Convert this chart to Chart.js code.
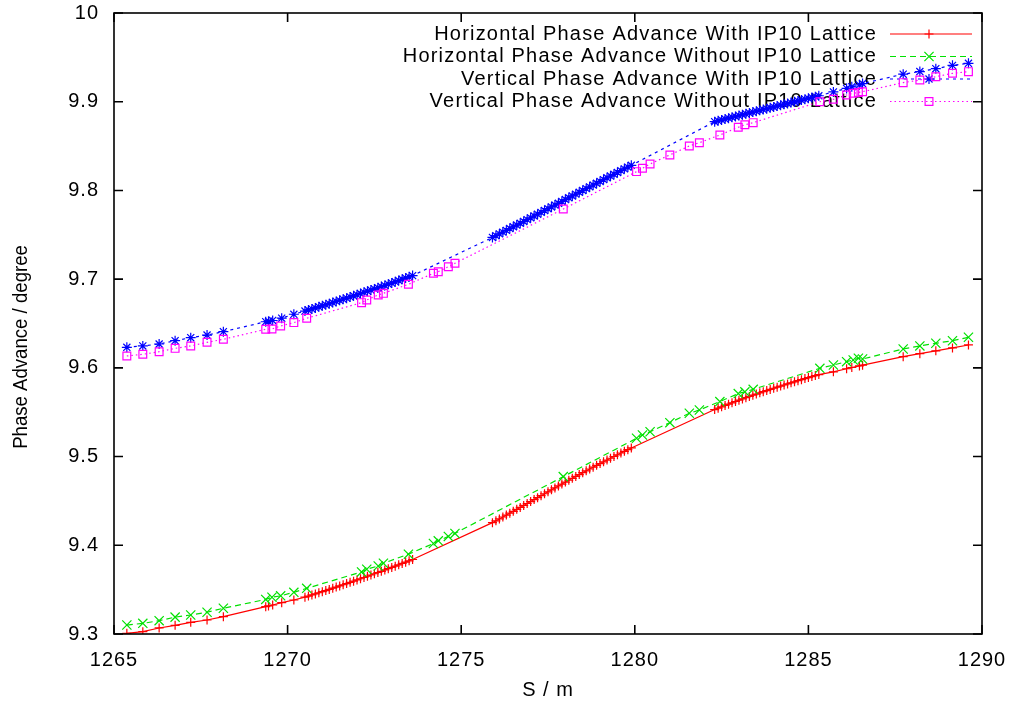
<!DOCTYPE html>
<html><head><meta charset="utf-8">
<script src="https://cdn.jsdelivr.net/npm/chart.js@4.4.0/dist/chart.umd.min.js"></script>
<style>html,body{margin:0;padding:0;background:#fff}#wrap{width:1013px;height:704px}</style>
</head><body><div id="wrap"><canvas id="c" width="1013" height="704"></canvas></div>
<script>
const seriesLabels = [
  "Horizontal Phase Advance With IP10 Lattice",
  "Horizontal Phase Advance Without IP10 Lattice",
  "Vertical Phase Advance With IP10 Lattice",
  "Vertical Phase Advance Without IP10 Lattice"
];
const xTitle = 'S / m';
const yTitle = 'Phase Advance / degree';
const xTicks = [1265, 1270, 1275, 1280, 1285, 1290];
const yTicks = [9.3, 9.4, 9.5, 9.6, 9.7, 9.8, 9.9, 10];

// S positions of the lattice with IP10
const withX = [
  1265.37, 1265.83, 1266.30, 1266.76, 1267.21, 1267.68, 1268.15, 1269.37, 1269.45, 1269.57, 1269.83, 1270.18,
  1270.5, 1270.6, 1270.7, 1270.8, 1270.9, 1271.0, 1271.1, 1271.2, 1271.3, 1271.4, 1271.5, 1271.6, 1271.7, 1271.8, 1271.9,
  1272.0, 1272.1, 1272.2, 1272.3, 1272.4, 1272.5, 1272.6, 1272.7, 1272.8, 1272.9, 1273.0, 1273.1, 1273.2, 1273.3, 1273.4, 1273.5, 1273.6,
  1275.9, 1276.0, 1276.1, 1276.2, 1276.3, 1276.4, 1276.5, 1276.6, 1276.7, 1276.8, 1276.9, 1277.0, 1277.1, 1277.2, 1277.3, 1277.4,
  1277.5, 1277.6, 1277.7, 1277.8, 1277.9, 1278.0, 1278.1, 1278.2, 1278.3, 1278.4, 1278.5, 1278.6, 1278.7, 1278.8, 1278.9, 1279.0,
  1279.1, 1279.2, 1279.3, 1279.4, 1279.5, 1279.6, 1279.7, 1279.8, 1279.9,
  1282.3, 1282.4, 1282.5, 1282.6, 1282.7, 1282.8, 1282.9, 1283.0, 1283.1, 1283.2, 1283.3, 1283.4, 1283.5, 1283.6, 1283.7, 1283.8,
  1283.9, 1284.0, 1284.1, 1284.2, 1284.3, 1284.4, 1284.5, 1284.6, 1284.7, 1284.8, 1284.9, 1285.0, 1285.1, 1285.2, 1285.3,
  1285.72, 1286.10, 1286.25, 1286.47, 1286.56, 1287.73, 1288.21, 1288.67, 1289.15, 1289.61
];
const hWith = [
  9.3008, 9.3026, 9.3068, 9.3098, 9.3132, 9.3158, 9.3195, 9.3308, 9.3316, 9.3327, 9.3353, 9.3383,
  9.3415, 9.3427, 9.3440, 9.3452, 9.3465, 9.3477, 9.3490, 9.3503, 9.3516, 9.3529, 9.3542, 9.3555, 9.3568, 9.3582, 9.3595,
  9.3609, 9.3623, 9.3637, 9.3651, 9.3665, 9.3679, 9.3693, 9.3707, 9.3722, 9.3736, 9.3751, 9.3765, 9.3780, 9.3795, 9.3810, 9.3825, 9.3840,
  9.4255, 9.4276, 9.4297, 9.4319, 9.4340, 9.4362, 9.4383, 9.4405, 9.4427, 9.4449, 9.4471, 9.4493, 9.4515, 9.4537, 9.4559, 9.4581,
  9.4603, 9.4625, 9.4647, 9.4669, 9.4690, 9.4712, 9.4733, 9.4755, 9.4776, 9.4797, 9.4818, 9.4839, 9.4860, 9.4880, 9.4901, 9.4921,
  9.4941, 9.4961, 9.4981, 9.5001, 9.5020, 9.5040, 9.5059, 9.5078, 9.5097,
  9.5530, 9.5546, 9.5561, 9.5576, 9.5591, 9.5606, 9.5621, 9.5636, 9.5650, 9.5664, 9.5678, 9.5692, 9.5705, 9.5718, 9.5731, 9.5744,
  9.5757, 9.5770, 9.5782, 9.5795, 9.5807, 9.5819, 9.5831, 9.5843, 9.5855, 9.5867, 9.5879, 9.5891, 9.5902, 9.5913, 9.5924,
  9.5955, 9.5990, 9.6004, 9.6022, 9.6030, 9.6126, 9.6160, 9.6192, 9.6225, 9.6258
];
const vWith = [
  9.6232, 9.6247, 9.6269, 9.6306, 9.6340, 9.6370, 9.6408, 9.6520, 9.6525, 9.6534, 9.6560, 9.6604,
  9.6640, 9.6652, 9.6664, 9.6676, 9.6688, 9.6700, 9.6712, 9.6724, 9.6736, 9.6749, 9.6761, 9.6774, 9.6786, 9.6799, 9.6812,
  9.6825, 9.6838, 9.6851, 9.6864, 9.6877, 9.6890, 9.6903, 9.6916, 9.6929, 9.6943, 9.6956, 9.6970, 9.6984, 9.6998, 9.7012, 9.7026, 9.7040,
  9.7470, 9.7490, 9.7510, 9.7530, 9.7550, 9.7570, 9.7590, 9.7610, 9.7630, 9.7650, 9.7671, 9.7691, 9.7712, 9.7732, 9.7753, 9.7773,
  9.7794, 9.7814, 9.7835, 9.7855, 9.7876, 9.7897, 9.7917, 9.7938, 9.7958, 9.7979, 9.8000, 9.8020, 9.8040, 9.8061, 9.8081, 9.8101,
  9.8122, 9.8142, 9.8162, 9.8182, 9.8203, 9.8223, 9.8243, 9.8263, 9.8283,
  9.8775, 9.8785, 9.8795, 9.8805, 9.8815, 9.8825, 9.8834, 9.8844, 9.8854, 9.8864, 9.8873, 9.8883, 9.8893, 9.8903, 9.8912, 9.8922,
  9.8932, 9.8941, 9.8951, 9.8961, 9.8971, 9.8980, 9.8990, 9.9000, 9.9009, 9.9019, 9.9029, 9.9038, 9.9048, 9.9057, 9.9067,
  9.9110, 9.9150, 9.9168, 9.9190, 9.9205, 9.9310, 9.9340, 9.9372, 9.9410, 9.9433
];

// S positions of the lattice without IP10
const withoutX = [
  1265.37, 1265.83, 1266.30, 1266.76, 1267.21, 1267.68, 1268.15, 1269.37, 1269.55, 1269.80, 1270.18, 1270.55,
  1272.13, 1272.28, 1272.61, 1272.76, 1273.48, 1274.20, 1274.34, 1274.63, 1274.82, 1277.94,
  1280.05, 1280.22, 1280.44, 1281.01, 1281.57, 1281.86, 1282.45, 1282.98, 1283.17, 1283.41,
  1285.33, 1285.72, 1286.10, 1286.29, 1286.44, 1286.56, 1287.73, 1288.21, 1288.67, 1289.15, 1289.61
];
const hWithout = [
  9.3101, 9.3120, 9.3150, 9.3190, 9.3214, 9.3245, 9.3290, 9.3390, 9.3414, 9.3430, 9.3470, 9.3515,
  9.3700, 9.3730, 9.3767, 9.3797, 9.3900, 9.4020, 9.4050, 9.4100, 9.4134, 9.4774,
  9.5206, 9.5243, 9.5280, 9.5382, 9.5488, 9.5525, 9.5620, 9.5710, 9.5730, 9.5758,
  9.5995, 9.6032, 9.6070, 9.6089, 9.6108, 9.6100, 9.6213, 9.6247, 9.6277, 9.6306, 9.6345
];
const vWithout = [
  9.6134, 9.6153, 9.6182, 9.6220, 9.6247, 9.6288, 9.6322, 9.6435, 9.6438, 9.6472, 9.6510, 9.6559,
  9.6735, 9.6765, 9.6822, 9.6840, 9.6942, 9.7066, 9.7084, 9.7140, 9.7179, 9.7790,
  9.8212, 9.8250, 9.8298, 9.8400, 9.8501, 9.8538, 9.8625, 9.8712, 9.8740, 9.8764,
  9.9000, 9.9027, 9.9076, 9.9095, 9.9105, 9.9113, 9.9215, 9.9245, 9.9282, 9.9320, 9.9339
];

const pts = (xs, ys) => xs.map((x, i) => ({x: x, y: ys[i]}));
const FONT = '"Liberation Sans", Arial, Helvetica, sans-serif';

const styles = [
  {color: '#ff0000', dash: [], point: 'cross', r: 4.5},
  {color: '#00e000', dash: [6, 4], point: 'crossRot', r: 6.5},
  {color: '#0000ff', dash: [3, 4], point: 'star', r: 5},
  {color: '#ff00ff', dash: [1.5, 3], point: 'rect', r: 5.5}
];
const seriesData = [pts(withX, hWith), pts(withoutX, hWithout), pts(withX, vWith), pts(withoutX, vWithout)];

const datasets = seriesData.map((d, i) => ({
  label: seriesLabels[i],
  data: d,
  showLine: true,
  borderColor: styles[i].color,
  backgroundColor: 'rgba(0,0,0,0)',
  borderWidth: 1.2,
  borderDash: styles[i].dash,
  pointStyle: styles[i].point,
  pointRadius: styles[i].r,
  pointBorderWidth: 1.2,
  pointBorderColor: styles[i].color,
  pointBackgroundColor: 'rgba(0,0,0,0)',
  tension: 0,
  order: 4 - i
}));

const spacingPlugin = {
  id: 'spacing',
  beforeLayout(chart) { chart.ctx.letterSpacing = '1px'; },
  beforeDraw(chart) { chart.ctx.letterSpacing = '1px'; }
};

const legendPlugin = {
  id: 'gpKey',
  beforeDatasetsDraw(chart) {
    const ctx = chart.ctx;
    ctx.save();
    ctx.font = '20px ' + FONT;
    ctx.letterSpacing = '1.2px';
    ctx.textAlign = 'right';
    ctx.textBaseline = 'middle';
    seriesLabels.forEach((lab, i) => {
      const y = 34 + i * 22.5;
      ctx.fillStyle = '#000';
      ctx.fillText(lab, 877, y);
      const st = styles[i];
      ctx.strokeStyle = st.color;
      ctx.lineWidth = 1.2;
      ctx.setLineDash(st.dash);
      ctx.beginPath(); ctx.moveTo(890, y); ctx.lineTo(972, y); ctx.stroke();
      ctx.setLineDash([]);
      ctx.fillStyle = 'rgba(0,0,0,0)';
      Chart.helpers.drawPoint(ctx, {pointStyle: st.point, radius: st.r, rotation: 0, borderWidth: 1.2}, 929, y);
    });
    // y-axis title (gnuplot renders it slightly condensed)
    const a = chart.chartArea;
    ctx.fillStyle = '#000';
    ctx.textAlign = 'center';
    ctx.letterSpacing = '0px';
    ctx.translate(21, 347);
    ctx.rotate(-Math.PI / 2);
    ctx.scale(0.93, 1);
    ctx.fillText(yTitle, 0, 0);
    ctx.restore();
  }
};

const framePlugin = {
  id: 'gpFrame',
  afterDatasetsDraw(chart) {
    const ctx = chart.ctx;
    const a = chart.chartArea;
    const xs = chart.scales.x, ys = chart.scales.y;
    ctx.save();
    ctx.strokeStyle = '#000';
    ctx.lineWidth = 1.6;
    ctx.setLineDash([]);
    ctx.strokeRect(a.left, a.top, a.right - a.left, a.bottom - a.top);
    ctx.beginPath();
    const tl = 9;
    xTicks.forEach(v => {
      const p = xs.getPixelForValue(v);
      ctx.moveTo(p, a.bottom); ctx.lineTo(p, a.bottom - tl);
      ctx.moveTo(p, a.top); ctx.lineTo(p, a.top + tl);
    });
    yTicks.forEach(v => {
      const p = ys.getPixelForValue(v);
      ctx.moveTo(a.left, p); ctx.lineTo(a.left + tl, p);
      ctx.moveTo(a.right, p); ctx.lineTo(a.right - tl, p);
    });
    ctx.stroke();
    ctx.restore();
  }
};

new Chart(document.getElementById('c'), {
  type: 'scatter',
  data: {datasets: datasets},
  options: {
    responsive: false,
    animation: false,
    devicePixelRatio: 1,
    layout: {padding: {top: 13, right: 31, left: 0, bottom: 0}},
    plugins: {legend: {display: false}, tooltip: {enabled: false}},
    scales: {
      x: {
        type: 'linear', min: 1265, max: 1290,
        afterBuildTicks: s => { s.ticks = xTicks.map(v => ({value: v})); },
        afterFit: s => { s.height = 70; s.paddingLeft = 0; s.paddingRight = 0; },
        grid: {display: false, drawTicks: false},
        border: {display: false},
        ticks: {color: '#000', font: {size: 20, family: FONT}, padding: 14, maxRotation: 0, callback: v => String(v)},
        title: {display: true, text: xTitle, color: '#000', font: {size: 20, family: FONT}, padding: {top: 0, bottom: 2}}
      },
      y: {
        type: 'linear', min: 9.3, max: 10,
        afterBuildTicks: s => { s.ticks = yTicks.map(v => ({value: v})); },
        afterFit: s => { s.width = 114; s.paddingTop = 0; s.paddingBottom = 0; },
        grid: {display: false, drawTicks: false},
        border: {display: false},
        ticks: {color: '#000', font: {size: 20, family: FONT}, padding: 15, callback: v => (Math.round(v * 10) / 10).toString()},
        title: {display: false}
      }
    }
  },
  plugins: [spacingPlugin, legendPlugin, framePlugin]
});
</script>
</body></html>
